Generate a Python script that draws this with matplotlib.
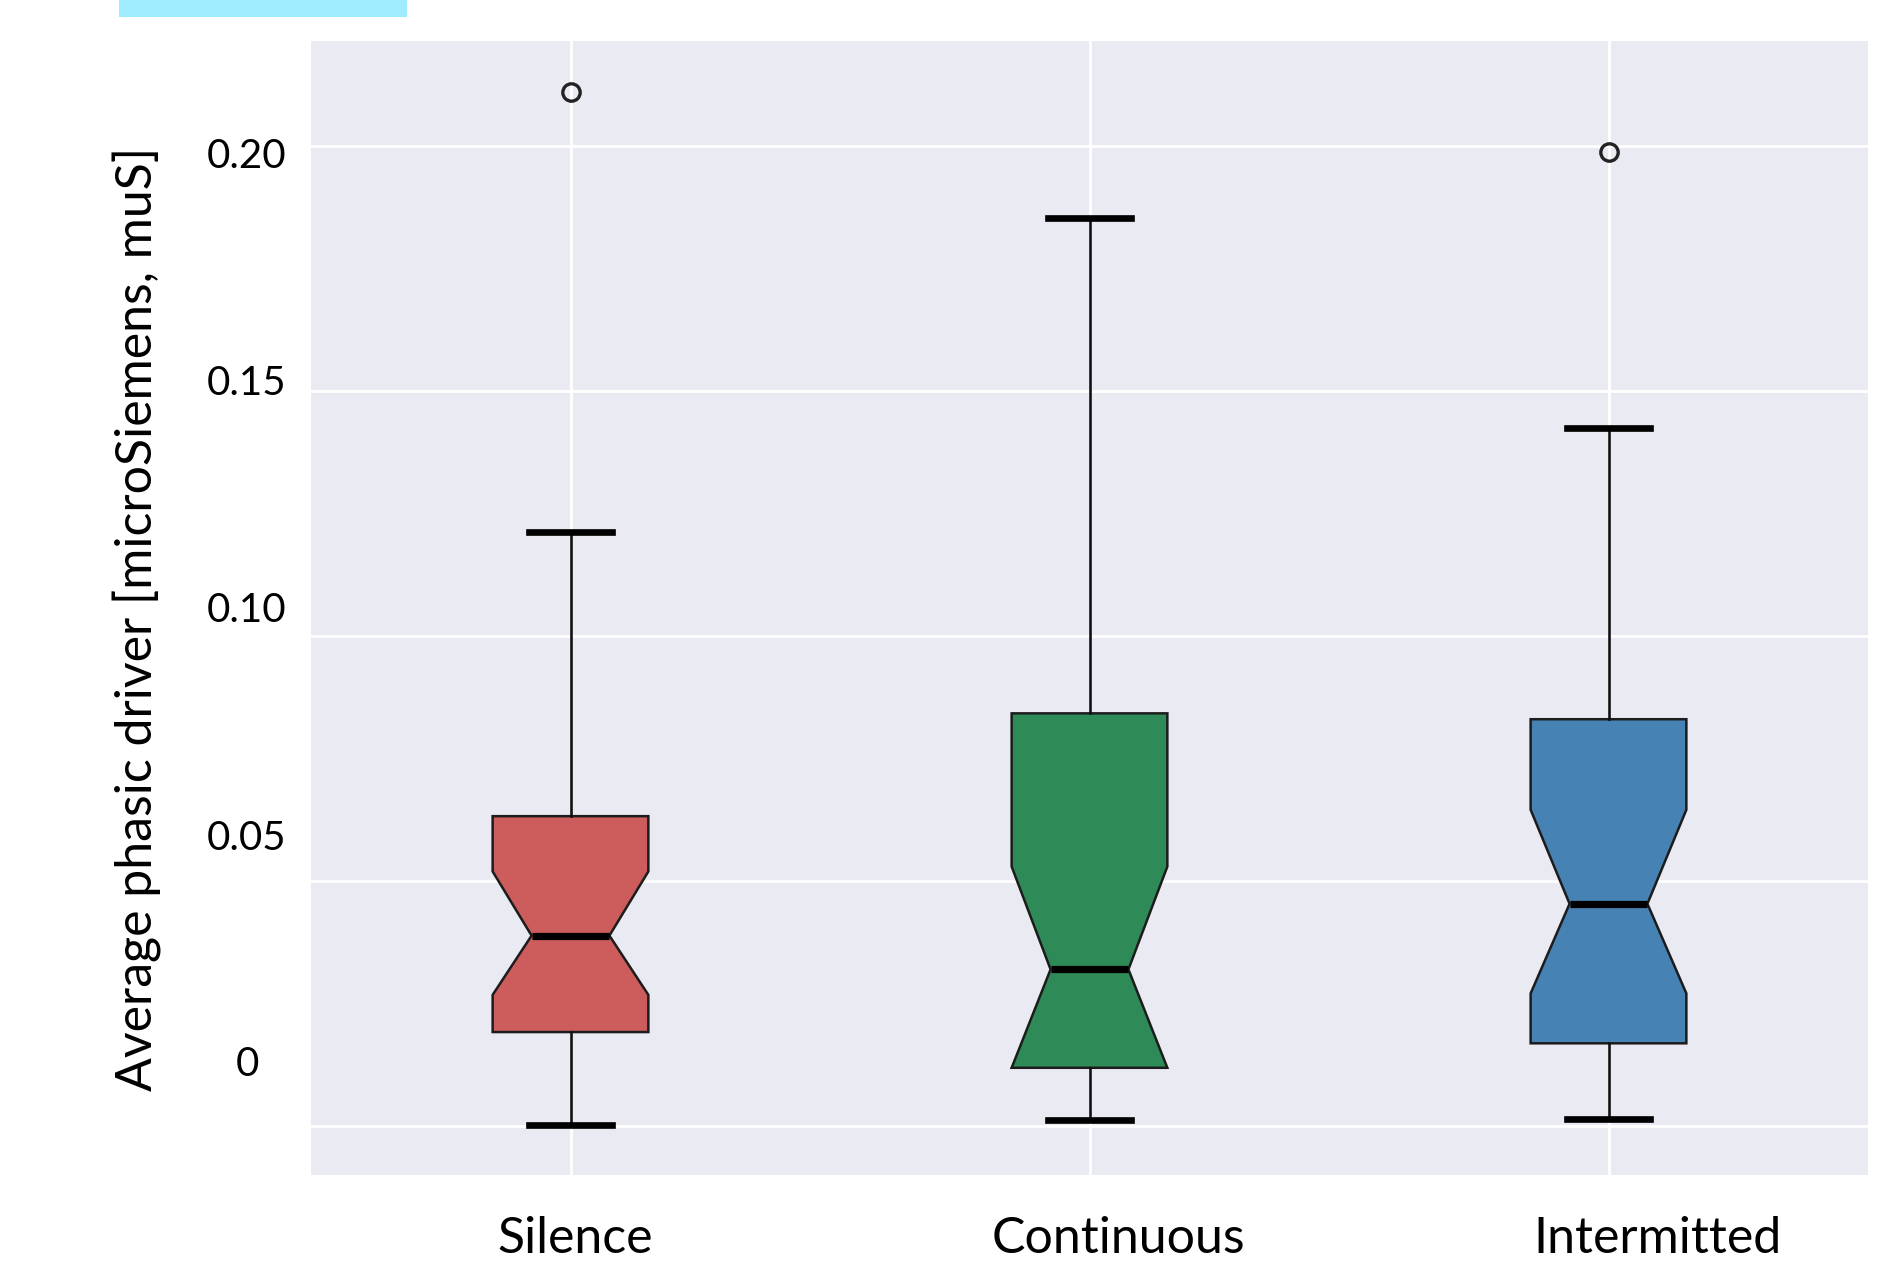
import matplotlib
matplotlib.use("Agg")
import matplotlib.pyplot as plt
from matplotlib.patches import Rectangle

# ---- data -------------------------------------------------------------
categories = ["Silence", "Continuous", "Intermitted"]
box_colors = ["#CD5C5C", "#2E8B57", "#4682B4"]

medians = [0.0388, 0.0319, 0.0453]
q1_values = [0.0191, 0.0118, 0.0168]
q3_values = [0.0632, 0.0842, 0.0830]
whisker_low = [0.0001, 0.0012, 0.0013]
whisker_high = [0.1213, 0.1853, 0.1425]
notch_low = [0.0267, 0.0118, 0.0270]
notch_high = [0.0519, 0.0529, 0.0645]
outliers = [[0.2111], [], [0.1989]]

ytick_values = [0, 0.05, 0.10, 0.15, 0.20]
ytick_labels = ["0", "0.05", "0.10", "0.15", "0.20"]
ylabel = "Average phasic driver [microSiemens, muS]"

# ---- layout (figure pixels) ------------------------------------------
W, H = 1885, 1272
FONT = ["Lato", "DejaVu Sans"]
FS_TICK = 29
FS_CAT = 36
FS_YLABEL = 36
xlabel_centers = [575, 1118, 1657]
xlabel_baseline = 1253
ylabel_center_x = 247
ylabel_baselines = [1076, 850, 622, 395, 168]


def fig_xy(x, y):
    return x / W, 1 - y / H


fig = plt.figure(figsize=(W / 100, H / 100), dpi=100)
fig.patch.set_facecolor("white")

left, right, top, bottom = 311, 1868, 40.7, 1175
ax = fig.add_axes([left / W, 1 - bottom / H, (right - left) / W, (bottom - top) / H])
ax.set_facecolor("#EAEAF2")
for s in ax.spines.values():
    s.set_visible(False)
ax.set_axisbelow(True)
ax.grid(True, color="white", linewidth=2.0)

positions = list(range(len(categories)))
stats = []
for i, name in enumerate(categories):
    stats.append(dict(
        label=name,
        med=medians[i],
        q1=q1_values[i],
        q3=q3_values[i],
        whislo=whisker_low[i],
        whishi=whisker_high[i],
        cilo=notch_low[i],
        cihi=notch_high[i],
        fliers=outliers[i],
    ))

art = ax.bxp(
    stats,
    positions=positions,
    widths=0.3,
    capwidths=0.16,
    shownotches=True,
    patch_artist=True,
    boxprops=dict(edgecolor="#1c1c1c", linewidth=1.8),
    whiskerprops=dict(color="#111111", linewidth=1.9),
    capprops=dict(color="black", linewidth=4.8),
    medianprops=dict(color="black", linewidth=5.2),
    flierprops=dict(marker="o", markerfacecolor="none", markeredgecolor="#222222",
                    markersize=12.5, markeredgewidth=2.4),
)
for patch, c in zip(art["boxes"], box_colors):
    patch.set_facecolor(c)

ax.set_xlim(-0.5, 2.5)
ax.set_ylim(-0.0101, 0.2216)
ax.set_xticks(positions)
ax.set_xticklabels([])
ax.set_yticks(ytick_values)
ax.set_yticklabels([])
ax.tick_params(length=0)

# category names under the axes
for name, cx in zip(categories, xlabel_centers):
    fig.text(*fig_xy(cx, xlabel_baseline), name, ha="center", va="baseline",
             fontsize=FS_CAT, family=FONT, color="black")

# value labels on the left
for lab, by in zip(ytick_labels, ylabel_baselines):
    fig.text(*fig_xy(ylabel_center_x, by), lab, ha="center", va="baseline",
             fontsize=FS_TICK, family=FONT, color="black")

fig.text(*fig_xy(137, 619), ylabel, rotation=90, ha="center", va="center",
         fontsize=FS_YLABEL, family=FONT, color="black")

# highlighted banner at the top-left
fig.add_artist(Rectangle(fig_xy(119, 16.7), (406.7 - 119) / W, 16.7 / H,
                         transform=fig.transFigure, facecolor="#A0ECFF",
                         edgecolor="none"))

fig.savefig("out.png", dpi=100)
